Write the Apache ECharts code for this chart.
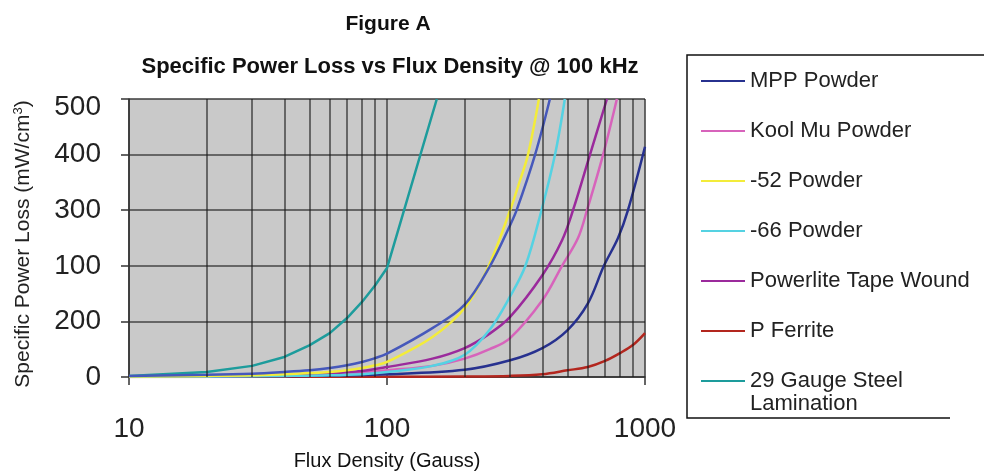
<!DOCTYPE html>
<html>
<head>
<meta charset="utf-8">
<script src="https://cdn.jsdelivr.net/npm/echarts@6/dist/echarts.min.js"></script>
<style>
  html, body { margin: 0; padding: 0; background: #fff; }
  #chart { width: 984px; height: 472px; }
</style>
</head>
<body>
<div id="chart"></div>
<script>
// y tick labels as printed on the original figure (bottom to top)
var yTickLabels = ['0', '200', '100', '300', '400', '500'];
// extra vertical grid lines of the log axis
var xGridValues = [20, 30, 40, 50, 60, 70, 80, 90, 200, 300, 400, 500, 600, 700, 800, 900];

// [flux density (Gauss), loss]
var mppPowder = [[10, 0.5], [20, 1], [50, 2], [100, 5], [200, 13], [300, 30], [400, 52], [500, 84], [600, 132], [693, 200], [786, 250], [859, 300], [1000, 414]];
var mppPowderB = [[10, 2], [20, 4], [30, 6], [40, 9], [50, 12], [60, 16], [70, 21], [80, 27], [90, 34], [100, 42], [150, 88], [200, 130], [251, 200], [300, 273], [318, 300], [375, 400], [428, 500]];
var koolMuPowder = [[10, 0.5], [20, 1], [40, 3], [60, 5], [80, 8], [100, 12], [150, 20], [200, 33], [250, 50], [300, 70], [400, 138], [477, 200], [550, 250], [596, 300], [688, 400], [778, 500]];
var powder52 = [[10, 1], [20, 2], [30, 3], [40, 5], [50, 7], [60, 9], [70, 12], [80, 16], [90, 21], [100, 27], [150, 72], [200, 124], [248, 200], [300, 300], [328, 354], [352, 400], [388, 500]];
var powder66 = [[10, 0.5], [20, 1], [40, 2], [60, 3], [80, 5], [100, 9], [150, 20], [200, 40], [250, 85], [300, 145], [344, 200], [397, 300], [448, 400], [489, 500]];
var powerliteTape = [[10, 1], [20, 2], [40, 4], [60, 7], [80, 11], [100, 18], [150, 33], [200, 52], [250, 78], [300, 108], [400, 183], [477, 246], [526, 300], [612, 400], [712, 500]];
var pFerrite = [[10, 0], [100, 0.5], [200, 1], [300, 2], [400, 5], [500, 12], [600, 18], [700, 29], [800, 43], [900, 58], [1000, 79]];
var steel29 = [[10, 2], [20, 9], [30, 20], [40, 36], [50, 57], [60, 79], [70, 106], [80, 135], [90, 165], [100, 196], [156, 500]];

var legendNames = ['MPP Powder', 'Kool Mu Powder', '-52 Powder', '-66 Powder', 'Powerlite Tape Wound', 'P Ferrite', '29 Gauge Steel'];

var chart = echarts.init(document.getElementById('chart'));

function curve(name, data, color, smooth) {
    return {
        name: name,
        type: 'line',
        data: data,
        showSymbol: false,
        symbol: 'none',
        smooth: smooth,
        color: color,
        lineStyle: { width: 2.5, color: color },
        z: 3
    };
}

var gridLineStyle = { color: 'rgba(25,25,25,0.75)', width: 1.5, type: 'solid' };

chart.setOption({
    animation: false,
    backgroundColor: '#fff',
    textStyle: { fontFamily: 'Liberation Sans, Arial, sans-serif' },
    title: [
        {
            text: 'Figure A',
            left: 383, top: 9, textAlign: 'center',
            textStyle: { fontSize: 21, fontWeight: 'bold', color: '#111' }
        },
        {
            text: 'Specific Power Loss vs Flux Density @ 100 kHz',
            left: 385, top: 51, textAlign: 'center',
            textStyle: { fontSize: 22, fontWeight: 'bold', color: '#111' }
        }
    ],
    grid: {
        left: 129, right: 339, top: 99, bottom: 95,
        outerBoundsMode: 'none',
        show: true, backgroundColor: '#c9c9c9', borderColor: '#aaa', borderWidth: 1
    },
    legend: {
        data: legendNames,
        orient: 'vertical',
        left: 696, top: 63,
        icon: 'rect',
        itemWidth: 44, itemHeight: 2,
        itemGap: 24,
        textStyle: { fontSize: 22, color: '#222', lineHeight: 26 }
    },
    xAxis: {
        type: 'log',
        logBase: 10,
        min: 10, max: 1000,
        name: 'Flux Density (Gauss)',
        nameLocation: 'middle',
        nameGap: 74,
        nameTextStyle: { fontSize: 20, color: '#111' },
        axisLine: { lineStyle: { color: '#333', width: 1.5 } },
        axisTick: { show: true, length: 8, lineStyle: { color: '#333', width: 1.5 } },
        axisLabel: {
            fontSize: 28, color: '#222', margin: 38,
            formatter: function (v) { return String(v); }
        },
        splitLine: { show: true, lineStyle: gridLineStyle }
    },
    yAxis: {
        type: 'value',
        min: 0, max: 500, interval: 100,
        name: '{a|Specific Power Loss (mW/cm}{s|3}{a|)}',
        nameLocation: 'middle',
        nameRotate: 90,
        nameGap: 94,
        nameTextStyle: {
            padding: [0, 12, 0, 0],
            rich: {
                a: { fontSize: 21, color: '#222' },
                s: { fontSize: 13, color: '#222', verticalAlign: 'bottom', padding: [0, 0, 10, 0] }
            }
        },
        axisLine: { show: true, lineStyle: { color: '#333', width: 1.5 } },
        axisTick: { show: true, length: 8, lineStyle: { color: '#333', width: 1.5 } },
        axisLabel: {
            fontSize: 28, color: '#222', margin: 28,
            formatter: function (v) {
                var i = Math.round(v / 100);
                return i === 5 ? '{top|' + yTickLabels[i] + '}' : yTickLabels[i];
            },
            rich: { top: { fontSize: 28, color: '#222', padding: [16, 0, 0, 0] } }
        },
        splitLine: { show: true, lineStyle: gridLineStyle }
    },
    graphic: [
        {
            type: 'polyline',
            shape: { points: [[950, 418], [687, 418], [687, 55], [984, 55]] },
            style: { fill: null, stroke: '#111', lineWidth: 1.5 }
        },
        {
            type: 'text',
            left: 750, top: 393,
            style: { text: 'Lamination', fontSize: 22, fill: '#222', fontFamily: 'Liberation Sans, Arial' }
        }
    ],
    series: [
        {
            name: 'grid',
            type: 'line',
            data: [[10, 0], [1000, 0]],
            symbol: 'none',
            lineStyle: { opacity: 0 },
            silent: true,
            z: 1,
            markLine: {
                silent: true,
                symbol: 'none',
                label: { show: false },
                lineStyle: gridLineStyle,
                data: xGridValues.map(function (v) { return { xAxis: v }; })
            }
        },
        curve('29 Gauge Steel', steel29, '#1d9c9c', false),
        curve('P Ferrite', pFerrite, '#b3261e', 0.35),
        curve('MPP Powder', mppPowder, '#27318f', 0.35),
        curve('Kool Mu Powder', koolMuPowder, '#d763bb', 0.35),
        curve('Powerlite Tape Wound', powerliteTape, '#9b2a9c', 0.35),
        curve('-66 Powder', powder66, '#55d2e2', 0.35),
        curve('-52 Powder', powder52, '#f3ec3a', 0.35),
        curve('MPP Powder ', mppPowderB, '#4658bb', 0.35)
    ]
});
</script>
</body>
</html>
